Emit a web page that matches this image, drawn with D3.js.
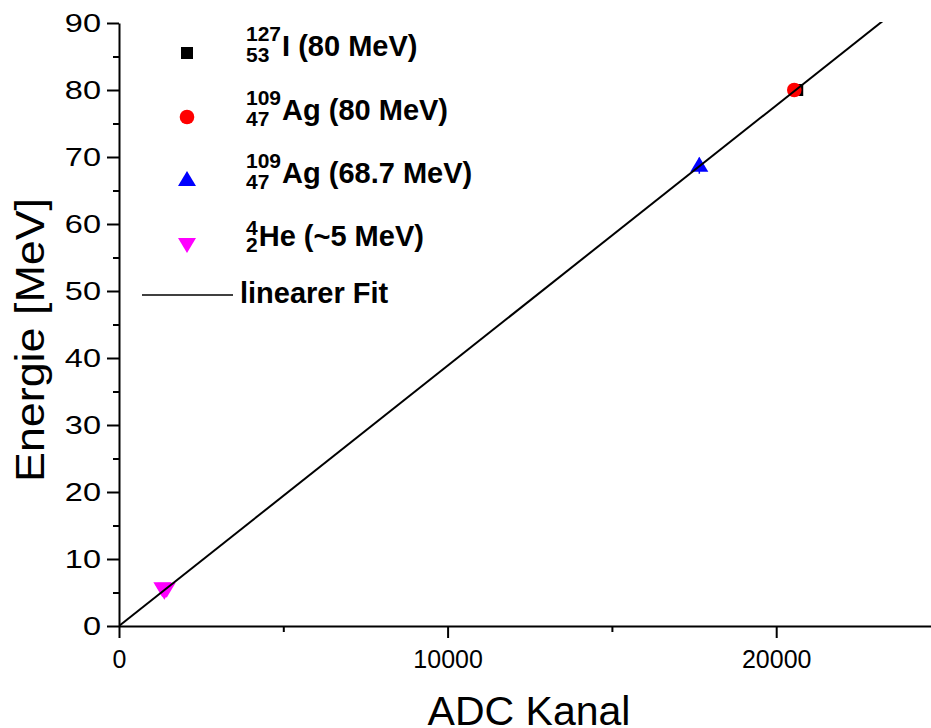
<!DOCTYPE html>
<html>
<head>
<meta charset="utf-8">
<script src="https://cdn.jsdelivr.net/npm/d3@7"></script>
<style>
  html, body { margin: 0; padding: 0; background: #fff; }
  svg { display: block; font-family: "Liberation Sans", Arial, sans-serif; }
</style>
</head>
<body>
<svg id="chart" width="931" height="728"></svg>
<script>
// Calibration points: ADC channel vs. particle energy
const iodine   = [{ch: 20640, e: 80.0, err: 0.3}];
const silver80 = [{ch: 20550, e: 80.0, err: 0.4}];
const silver69 = [{ch: 17660, e: 68.7, err: 1.2}];
const helium   = [
  {ch: 1320, e: 5.5, err: 0.7},
  {ch: 1380, e: 5.1, err: 0.3},
  {ch: 1450, e: 5.4, err: 0.3}
];
// linear fit E = slope * ch + intercept
const fitParams = {slope: 0.003885, intercept: 0.0};

const xTicks = [0, 10000, 20000];
const xMinor = [5000, 15000, 25000];
const yTicks = [0, 10, 20, 30, 40, 50, 60, 70, 80, 90];
const yMinor = [5, 15, 25, 35, 45, 55, 65, 75, 85];

const legendItems = [
  {sup: "127", sub: "53", text: "I (80 MeV)",    shape: "square"},
  {sup: "109", sub: "47", text: "Ag (80 MeV)",   shape: "circle"},
  {sup: "109", sub: "47", text: "Ag (68.7 MeV)", shape: "up"},
  {sup: "4",   sub: "2",  text: "He (~5 MeV)",   shape: "down"}
];

const colors = {square: "#000000", circle: "#ff0000", up: "#0000ff", down: "#ff00ff"};

const svg = d3.select("#chart");
const x = d3.scaleLinear().domain([0, 25000]).range([119, 940.5]);
const y = d3.scaleLinear().domain([0, 90]).range([626, 23]);

// marker shapes
function markerPath(shape) {
  if (shape === "square") return "M-6,-6H6V6H-6Z";
  if (shape === "up") return "M0,-9L9,6H-9Z";
  if (shape === "down") return "M0,8L9,-7H-9Z";
  return null;
}
function drawMarker(g, shape, cx, cy) {
  if (shape === "circle") {
    g.append("circle").attr("cx", cx).attr("cy", cy).attr("r", 7.3)
      .attr("fill", colors[shape]);
  } else {
    g.append("path").attr("d", markerPath(shape))
      .attr("transform", `translate(${cx},${cy})`)
      .attr("fill", colors[shape]);
  }
}

// data points with error bars
const pts = svg.append("g");
[[iodine, "square"], [silver80, "circle"], [silver69, "up"], [helium, "down"]].forEach(([data, shape]) => {
  data.forEach(d => {
    pts.append("line")
      .attr("x1", x(d.ch)).attr("x2", x(d.ch))
      .attr("y1", y(d.e - d.err)).attr("y2", y(d.e + d.err))
      .attr("stroke", shape === "square" ? "#000" : colors[shape]).attr("stroke-width", 1.5);
    drawMarker(pts, shape, x(d.ch), y(d.e));
  });
});

// fit line, clipped to the plot area
svg.append("clipPath").attr("id", "plotClip")
  .append("rect").attr("x", 119).attr("y", y(90) - 1).attr("width", 830).attr("height", 610);
const fitX = x.domain();
svg.append("line")
  .attr("clip-path", "url(#plotClip)")
  .attr("x1", x(fitX[0])).attr("y1", y(fitParams.slope * fitX[0] + fitParams.intercept))
  .attr("x2", x(fitX[1])).attr("y2", y(fitParams.slope * fitX[1] + fitParams.intercept))
  .attr("stroke", "#000").attr("stroke-width", 2);

// axes
const yAxisMinor = svg.append("g").attr("transform", "translate(119,0)")
  .call(d3.axisLeft(y).tickValues(yMinor).tickSize(6).tickFormat(""));
const xAxisMinor = svg.append("g").attr("transform", "translate(0,626)")
  .call(d3.axisBottom(x).tickValues(xMinor).tickSize(6).tickFormat(""));
[yAxisMinor, xAxisMinor].forEach(g => g.select(".domain").remove());

const yAxis = svg.append("g").attr("transform", "translate(119,0)")
  .call(d3.axisLeft(y).tickValues(yTicks).tickSize(12).tickSizeOuter(0).tickFormat(d3.format("d")));
const xAxis = svg.append("g").attr("transform", "translate(0,626)")
  .call(d3.axisBottom(x).tickValues(xTicks).tickSize(12).tickSizeOuter(0).tickPadding(12).tickFormat(d3.format("d")));

svg.selectAll(".domain, .tick line").attr("stroke", "#000").attr("stroke-width", 2);
xAxis.selectAll("text").attr("font-size", 25).attr("fill", "#000")
  .attr("font-family", "'Liberation Sans', Arial, sans-serif");
yAxis.selectAll("text").attr("font-size", 25).attr("fill", "#000")
  .attr("font-family", "'Liberation Sans', Arial, sans-serif")
  .attr("x", 0).attr("transform", "translate(-18,0) scale(1.3,1)");

// axis titles
svg.append("text").attr("x", 529).attr("y", 725).attr("text-anchor", "middle")
  .attr("font-size", 41).attr("fill", "#000").text("ADC Kanal");
svg.append("text").attr("transform", "translate(44,340) rotate(-90)")
  .attr("text-anchor", "middle").attr("font-size", 41).attr("fill", "#000")
  .attr("textLength", 284).attr("lengthAdjust", "spacingAndGlyphs")
  .text("Energie [MeV]");

// legend
const legend = svg.append("g").attr("font-weight", "bold").attr("fill", "#000");
const rowBase = [56, 120, 183, 246];
const markerY = [53, 117, 180, 245];
const supShift = [-15, -15, -15, -11];
legendItems.forEach((it, i) => {
  drawMarker(legend, it.shape, 187, markerY[i]);
  const sx = 246;
  const sup = legend.append("text").attr("x", sx).attr("y", rowBase[i] + supShift[i])
    .attr("font-size", 21).text(it.sup);
  const sub = legend.append("text").attr("x", sx).attr("y", rowBase[i] + 6)
    .attr("font-size", 21).text(it.sub);
  const w = Math.max(sup.node().getComputedTextLength(), sub.node().getComputedTextLength());
  legend.append("text").attr("x", sx + w + 1).attr("y", rowBase[i])
    .attr("font-size", 29).text(it.text);
});
legend.append("line").attr("x1", 142).attr("x2", 233).attr("y1", 295).attr("y2", 295)
  .attr("stroke", "#000").attr("stroke-width", 1.5);
legend.append("text").attr("x", 240).attr("y", 303).attr("font-size", 29).text("linearer Fit");
</script>
</body>
</html>
